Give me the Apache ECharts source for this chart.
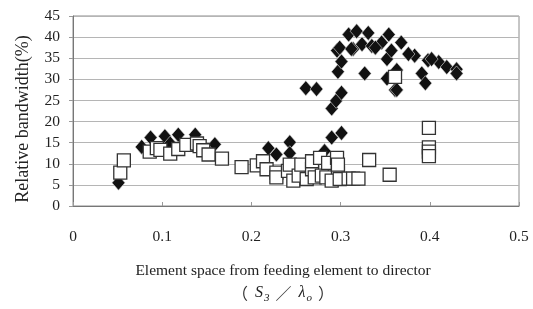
<!DOCTYPE html>
<html><head><meta charset="utf-8">
<script src="https://cdn.jsdelivr.net/npm/echarts@6/dist/echarts.min.js"></script>
<style>html,body{margin:0;padding:0;background:#fff}#c{width:533px;height:309px}</style>
</head><body><div id="c"></div>
<script>
// Filled diamonds: [x, relative bandwidth %]
const diamondX = [0.051,0.077,0.087,0.103,0.109,0.118,0.137,0.159,
  0.219,0.228,0.243,0.243,0.282,
  0.261,0.273,0.290,0.295,0.301,0.290,0.301,
  0.297,0.301,0.296,0.299,0.309,0.318,0.314,0.331,0.327,0.324,0.335,0.346,0.354,0.352,0.361,0.352,
  0.368,0.383,0.398,0.410,0.419,0.430,0.430,0.391,0.395,0.363,0.363,0.339,0.357,0.376,0.402,0.312];
const diamondY = [5.5,14.0,16.2,16.5,14.8,16.9,16.9,14.6,
  13.7,12.2,15.1,12.5,13.0,
  27.9,27.7,23.1,24.9,26.8,16.2,17.3,
  31.8,34.2,36.8,37.5,40.6,41.4,37.2,41.0,31.4,38.3,37.9,38.7,40.6,34.8,27.5,30.2,
  38.7,35.6,34.5,34.1,32.9,32.4,31.4,31.4,29.1,32.2,27.5,37.5,36.8,36.0,34.8,37.2];
// Open squares: [x, relative bandwidth %]
const squareX = [0.053,0.057,0.086,0.094,0.098,0.109,0.118,0.127,0.139,0.142,0.146,0.152,0.167,0.189,0.206,
  0.213,0.217,0.228,0.228,0.241,0.243,0.247,0.253,0.256,0.262,0.268,0.268,0.271,0.277,0.279,0.284,0.286,
  0.296,0.297,0.297,0.290,0.299,0.309,0.314,0.320,0.332,0.355,0.361,0.399,0.399,0.399,0.399];
const squareY = [7.9,10.8,12.9,13.7,13.3,12.4,13.5,14.5,14.8,14.2,13.2,12.2,11.2,9.2,9.6,
  10.6,8.7,7.9,6.8,8.3,9.8,6.0,7.2,9.8,6.4,8.7,10.6,6.8,11.4,7.2,6.8,10.2,
  11.4,7.9,9.8,6.0,6.4,6.5,6.5,6.5,10.9,7.4,30.6,18.5,13.9,12.9,11.8];
const xTicks = [0,0.1,0.2,0.3,0.4,0.5];
const yTicks = [0,5,10,15,20,25,30,35,40,45];

const chart = echarts.init(document.getElementById('c'), null, {renderer:'canvas'});
const serif = '"Liberation Serif", "DejaVu Serif", serif';
const cjk = '"Noto Sans CJK JP", "Liberation Serif", serif';
chart.setOption({
  animation:false,
  backgroundColor:'#fff',
  grid:{left:73,right:14,top:16,bottom:98,show:true,borderColor:'#8c8c8c',borderWidth:1},
  xAxis:{type:'value',min:xTicks[0],max:xTicks[xTicks.length-1],interval:0.1,
    axisLine:{show:true,onZero:false,lineStyle:{color:'#777',width:1}},
    axisTick:{show:true,inside:true,length:4,lineStyle:{color:'#999'}},
    splitLine:{show:false},
    axisLabel:{margin:23,color:'#222',fontFamily:serif,fontSize:15.5,formatter:v=>String(Number(v.toFixed(1)))},
    name:'Element space from feeding element to director\n{p|（}{i|S}{sub|3}{p|／}{i|λ}{sub|o}{p|）}',
    nameLocation:'middle',nameGap:54,
    nameTextStyle:{color:'#222',fontFamily:serif,fontSize:15.5,lineHeight:22,padding:[0,26,0,0],
      rich:{p:{fontFamily:cjk,fontSize:16,color:'#333',padding:[0,6,0,6]},
            i:{fontFamily:serif,fontStyle:'italic',fontSize:16,color:'#222',padding:[0,1,0,1]},
            sub:{fontFamily:serif,fontStyle:'italic',fontSize:11,color:'#222',verticalAlign:'bottom',padding:[3,0,0,0]}}}
  },
  yAxis:{type:'value',min:yTicks[0],max:yTicks[yTicks.length-1],interval:5,
    axisLine:{show:true,lineStyle:{color:'#777',width:1}},
    axisTick:{show:true,length:4,lineStyle:{color:'#999'}},
    splitLine:{show:true,lineStyle:{color:'#b5b5b5',width:1.2}},
    axisLabel:{margin:13,color:'#222',fontFamily:serif,fontSize:15.5},
    name:'Relative bandwidth(%)',nameLocation:'middle',nameGap:41,nameRotate:90,
    nameTextStyle:{color:'#222',fontFamily:serif,fontSize:18,padding:[0,16,0,0]}
  },
  series:[
    {type:'scatter',symbol:'diamond',symbolSize:[13,15],
      itemStyle:{color:'#111',borderColor:'#ddd',borderWidth:0.6,opacity:1},
      data:diamondX.map((x,i)=>[x,diamondY[i]])},
    {type:'scatter',symbol:'rect',symbolSize:13,
      itemStyle:{color:'#fff',borderColor:'#333',borderWidth:1.3,opacity:1},
      data:squareX.map((x,i)=>[x,squareY[i]])}
  ]
});
</script></body></html>
